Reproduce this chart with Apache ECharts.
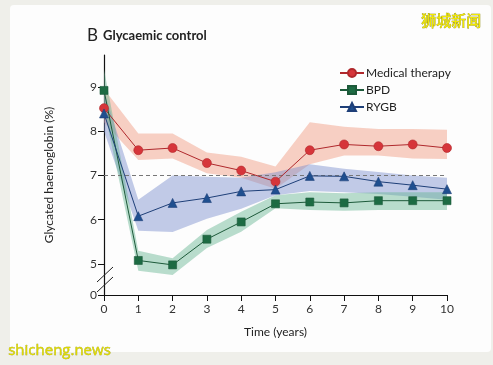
<!DOCTYPE html>
<html><head><meta charset="utf-8">
<script src="https://cdn.jsdelivr.net/npm/echarts@6/dist/echarts.min.js"></script>
<style>html,body{margin:0;padding:0;background:#efefea;}#c{width:493px;height:365px;}</style>
</head><body><div id="c"></div>
<script>
const years = ['0','1','2','3','4','5','6','7','8','9','10'];
const medical = [8.52,7.57,7.62,7.28,7.11,6.86,7.57,7.70,7.66,7.70,7.62];
const medicalLo = [8.20,7.35,7.38,7.05,6.95,6.70,7.25,7.45,7.45,7.38,7.37];
const medicalHi = [8.95,7.95,7.95,7.52,7.42,7.20,8.20,8.10,8.05,8.05,8.03];
const bpd = [8.92,5.08,4.98,5.56,5.95,6.36,6.40,6.38,6.43,6.43,6.43];
const bpdLo = [8.50,4.85,4.75,5.36,5.73,6.26,6.22,6.20,6.22,6.22,6.22];
const bpdHi = [9.40,5.30,5.13,5.77,6.18,6.55,6.62,6.60,6.62,6.62,6.62];
const rygb = [8.40,6.08,6.38,6.49,6.64,6.68,6.99,6.98,6.86,6.78,6.69];
const rygbLo = [8.00,5.75,5.72,6.02,6.25,6.55,6.65,6.62,6.58,6.52,6.45];
const rygbHi = [8.90,6.45,7.00,6.97,6.95,7.07,7.25,7.15,7.08,7.00,6.95];
const yTickValues = [4.3,5,6,7,8,9];
const yTickLabels = ['0','5','6','7','8','9'];
const targetLevel = 7;

const FONT = 'Lato';
const chart = echarts.init(document.getElementById('c'), null, {renderer:'canvas'});

function band(name, lo, hi, color){
  return [
    {type:'line', name:name+'_lo', stack:name, data: lo.slice(),
     symbol:'none', lineStyle:{opacity:0}, silent:true, z:1},
    {type:'line', name:name+'_band', stack:name, data: hi.map((h,i)=>+(h-lo[i]).toFixed(3)),
     symbol:'none', lineStyle:{opacity:0}, areaStyle:{color:color, opacity:1}, silent:true, z:1}
  ];
}
function line(name, vals, symbol, size, color, lineColor){
  return {type:'line', name:name, data: vals.slice(),
    symbol:symbol, symbolSize:size, itemStyle:{color:color, borderColor:lineColor, borderWidth:0.6},
    lineStyle:{color:lineColor, width:1}, z:5};
}

chart.setOption({
  backgroundColor:'transparent',
  animation:false,
  graphic:[
    {type:'rect', shape:{x:10,y:5,width:481,height:347,r:4}, style:{fill:'#fdfdfd'}, z:-10},
    {type:'line', shape:{x1:97,y1:282,x2:113,y2:267}, style:{stroke:'#222',lineWidth:1}, z:10},
    {type:'line', shape:{x1:97,y1:292,x2:113,y2:277}, style:{stroke:'#222',lineWidth:1}, z:10},
    {type:'text', left:421, top:12, style:{text:'狮城新闻', font:'15px "Noto Sans CJK SC"', fill:'#f2ea00', stroke:'#8a8400', lineWidth:0.6}, z:20},
    {type:'text', left:8, top:343, style:{text:'shicheng.news', font:'15px "Open Sans"', fill:'#dcd800', stroke:'#9a9600', lineWidth:0.4}, z:20}
  ],
  title:{
    left:82, top:22,
    text:'{b|B} {t|Glycaemic control}',
    textStyle:{rich:{
      b:{fontFamily:FONT, fontSize:17, color:'#222', fontWeight:'normal'},
      t:{fontFamily:FONT, fontSize:13, color:'#222', fontWeight:'bold'}
    }}
  },
  legend:{
    left:334, top:62, orient:'vertical', itemGap:5, itemWidth:24, itemHeight:10,
    data:['Medical therapy','BPD','RYGB'],
    textStyle:{fontFamily:FONT, fontSize:12, color:'#222', padding:[0,0,0,-3]}
  },
  grid:{left:104, right:46, top:55, bottom:70},
  xAxis:{
    type:'category', data:years, boundaryGap:false,
    name:'Time (years)', nameLocation:'middle', nameGap:31,
    nameTextStyle:{fontFamily:FONT, fontSize:12, color:'#222'},
    axisLine:{lineStyle:{color:'#111', width:1.2}},
    axisTick:{length:6, alignWithLabel:true, lineStyle:{color:'#111'}},
    axisLabel:{fontFamily:FONT, fontSize:12, color:'#333', margin:8, interval:0},
    splitLine:{show:false}
  },
  yAxis:{
    type:'value', min:4.3, max:9.72,
    name:'Glycated haemoglobin (%)', nameLocation:'middle', nameGap:49, nameRotate:90,
    nameTextStyle:{fontFamily:FONT, fontSize:12, color:'#222'},
    axisLine:{show:true, lineStyle:{color:'#111', width:1.2}},
    axisTick:{show:true, length:6, customValues:yTickValues, lineStyle:{color:'#111'}},
    axisLabel:{fontFamily:FONT, fontSize:12, color:'#333', margin:7, customValues:yTickValues,
      formatter:function(v){ const i = yTickValues.indexOf(v); return i>=0 ? yTickLabels[i] : ''; }},
    splitLine:{show:false}
  },
  series:[
    ...band('red', medicalLo, medicalHi, 'rgba(240,150,125,0.45)'),
    ...band('blue', rygbLo, rygbHi, 'rgba(120,140,205,0.45)'),
    ...band('green', bpdLo, bpdHi, 'rgba(100,180,145,0.45)'),
    {type:'line', name:'ref', data:[], symbol:'none', silent:true,
     markLine:{silent:true, symbol:'none', label:{show:false},
       lineStyle:{color:'#777', type:[4,3], width:1}, data:[{yAxis:targetLevel}]}},
    line('Medical therapy', medical, 'circle', 9, '#d6353a', '#b0282c'),
    line('BPD', bpd, 'rect', 8, '#1d6b43', '#1d5a3a'),
    line('RYGB', rygb, 'triangle', 9, '#1f4f8f', '#1e3f78')
  ]
});
</script></body></html>
